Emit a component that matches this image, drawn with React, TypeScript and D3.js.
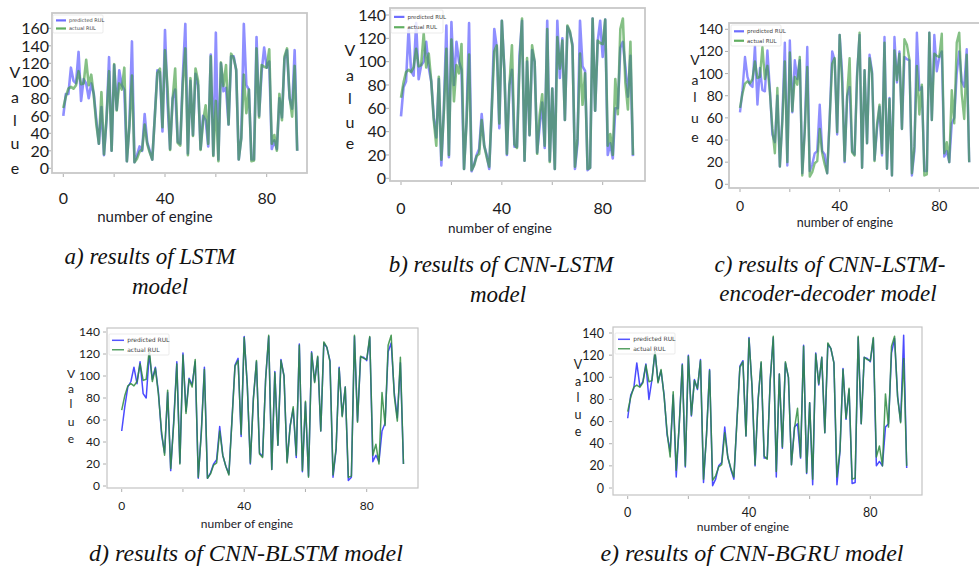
import React from 'react';
import * as d3 from 'd3';

// actual RUL per test engine (shared by all five panels)
const actualRUL = [
  69, 82, 91, 93, 91, 95, 111, 96, 97, 124,
  95, 107, 83, 50, 28, 87, 16, 57, 111, 20,
  119, 66, 97, 90, 115, 8, 48, 106, 7, 11,
  19, 21, 50, 28, 18, 10, 59, 109, 114, 47,
  135, 92, 21, 79, 114, 29, 26, 97, 137, 15,
  103, 37, 114, 100, 21, 54, 72, 28, 128, 14,
  77, 8, 121, 94, 118, 50, 131, 126, 113, 10,
  34, 107, 63, 90, 8, 9, 137, 58, 118, 116,
  115, 136, 28, 38, 20, 85, 55, 128, 137, 82,
  59, 117, 20,
];

const predLSTM = [
  60, 85, 85, 115, 100, 97, 133, 77, 102, 97,
  80, 97, 85, 55, 28, 70, 15, 55, 127, 20,
  118, 67, 112, 95, 90, 8, 50, 145, 7, 15,
  25, 20, 62, 30, 20, 10, 60, 112, 110, 42,
  158, 75, 22, 80, 90, 30, 28, 105, 165, 17,
  100, 38, 108, 95, 22, 60, 55, 25, 130, 15,
  155, 10, 120, 88, 92, 50, 128, 128, 112, 10,
  35, 165, 95, 90, 10, 10, 150, 60, 110, 138,
  115, 122, 22, 32, 22, 80, 58, 125, 135, 80,
  68, 135, 20,
];

const predCNNLSTM = [
  53, 78, 83, 128, 92, 88, 133, 85, 97, 100,
  117, 95, 83, 52, 35, 85, 11, 60, 131, 18,
  134, 80, 117, 100, 93, 8, 50, 133, 6, 12,
  20, 25, 55, 28, 20, 8, 60, 128, 112, 43,
  135, 93, 20, 80, 93, 27, 27, 105, 135, 15,
  100, 37, 110, 100, 22, 45, 65, 26, 135, 15,
  77, 8, 135, 86, 120, 50, 130, 125, 115, 8,
  30, 135, 96, 92, 7, 9, 137, 58, 117, 135,
  104, 136, 20, 30, 17, 60, 60, 112, 117, 95,
  70, 105, 19,
];

const predEncDec = [
  65, 85, 115, 97, 90, 88, 125, 72, 105, 85,
  84, 121, 85, 45, 38, 80, 16, 60, 128, 17,
  130, 65, 112, 95, 112, 10, 50, 124, 12, 18,
  28, 30, 72, 30, 27, 10, 60, 120, 112, 45,
  135, 100, 20, 80, 88, 30, 27, 100, 135, 15,
  103, 37, 117, 102, 22, 50, 70, 26, 133, 14,
  78, 8, 133, 92, 120, 50, 115, 113, 112, 8,
  30, 137, 85, 88, 12, 12, 137, 58, 135, 102,
  115, 120, 25, 30, 20, 55, 60, 100, 120, 93,
  88, 122, 20,
];

const predBLSTM = [
  50, 72, 90, 95, 108, 93, 113, 84, 80, 120,
  97, 108, 85, 47, 30, 85, 14, 60, 113, 21,
  121, 68, 98, 92, 113, 7, 50, 108, 7, 12,
  20, 24, 54, 28, 18, 11, 60, 110, 116, 45,
  136, 92, 20, 80, 113, 30, 27, 98, 136, 15,
  104, 37, 115, 100, 22, 55, 70, 26, 129, 13,
  76, 9, 122, 95, 117, 50, 130, 126, 114, 8,
  33, 108, 64, 90, 5, 8, 136, 59, 117, 117,
  114, 135, 22, 28, 22, 50, 57, 122, 130, 85,
  62, 112, 20,
];

const predBGRU = [
  63, 84, 90, 113, 92, 96, 112, 80, 98, 123,
  96, 106, 84, 48, 33, 84, 10, 58, 112, 19,
  120, 65, 98, 89, 116, 5, 49, 107, 2, 8,
  20, 23, 55, 28, 17, 8, 60, 110, 115, 47,
  136, 91, 20, 80, 113, 27, 27, 98, 136, 10,
  103, 36, 113, 100, 21, 55, 58, 27, 129, 13,
  77, 3, 122, 93, 118, 50, 130, 126, 113, 3,
  33, 108, 62, 89, 4, 5, 136, 58, 118, 117,
  114, 135, 20, 24, 20, 55, 58, 122, 135, 83,
  60, 138, 18,
];

const yTicks160 = [0, 20, 40, 60, 80, 100, 120, 140, 160];
const yTicks140 = [0, 20, 40, 60, 80, 100, 120, 140];
const xLabelTicks = [0, 40, 80];
const xMinorTicks = [0, 20, 40, 60, 80];
const yLetters = ['V', 'a', 'l', 'u', 'e'];
const legendNames = ['predicted RUL', 'actual RUL'];

const sans = "Lato, 'Open Sans', sans-serif";
const serif = "'Liberation Serif', 'Times New Roman', serif";

// layout of each panel (pixel geometry of the pasted screenshots)
const panels = [
  {
    key: 'a', pred: predLSTM, yTicks: yTicks160, yTop: 160,
    frame: [52, 13, 307, 173], xr: [63.3, 266.7], yr: [168.3, 28.3],
    fs: 16, labelRight: 49, letterX: 15, letterY: [72, 97, 120, 143, 168],
    xLabelY: 204, nameX: 155, nameY: 222, nameFs: 15,
    legend: [53, 15, 50, 18, 5], lw: 2.6, thin: false,
    captions: [['a) results of LSTM', 150, 264], ['model', 160, 294]], capFs: 23,
  },
  {
    key: 'b', pred: predCNNLSTM, yTicks: yTicks140, yTop: 140,
    frame: [390, 8, 645, 181], xr: [401, 602.7], yr: [178.3, 15],
    fs: 16, labelRight: 386, letterX: 350, letterY: [50, 75, 98, 122, 143],
    xLabelY: 214, nameX: 500, nameY: 233, nameFs: 13.5,
    legend: [391, 10, 52, 23, 5.5], lw: 2.6, thin: false,
    captions: [['b) results of CNN-LSTM', 501, 272], ['model', 498, 302]], capFs: 23,
  },
  {
    key: 'c', pred: predEncDec, yTicks: yTicks140, yTop: 140,
    frame: [729, 23, 990, 188], xr: [740, 939.3], yr: [184.3, 29.3],
    fs: 14, labelRight: 723, letterX: 695, letterY: [60, 80, 97, 118, 137],
    xLabelY: 211, nameX: 845, nameY: 227, nameFs: 12.5,
    legend: [731, 25, 50, 21, 5.5], lw: 2.4, thin: false,
    captions: [['c) results of CNN-LSTM-', 830, 272], ['encoder-decoder model', 828, 301]], capFs: 23,
  },
  {
    key: 'd', pred: predBLSTM, yTicks: yTicks140, yTop: 140,
    frame: [107, 328, 418, 488], xr: [121.7, 366.7], yr: [486, 332],
    fs: 12, labelRight: 100, letterX: 71, letterY: [374, 389, 404, 422, 439],
    xLabelY: 510, nameX: 247, nameY: 528, nameFs: 12,
    legend: [109, 334, 60, 21, 6], lw: 1.5, thin: true,
    captions: [['d) results of CNN-BLSTM model', 246, 561]], capFs: 24,
  },
  {
    key: 'e', pred: predBGRU, yTicks: yTicks140, yTop: 140,
    frame: [613, 327, 922, 495], xr: [627.7, 870.3], yr: [488, 333],
    fs: 12.5, labelRight: 604, letterX: 578, letterY: [364, 381, 397, 414, 431],
    xLabelY: 517, nameX: 743, nameY: 531, nameFs: 12,
    legend: [615, 333, 60, 21, 6], lw: 1.5, thin: true,
    captions: [['e) results of CNN-BGRU model', 752, 561]], capFs: 24,
  },
];

const Panel = ({ p }) => {
  const x = d3.scaleLinear().domain([0, 80]).range(p.xr);
  const y = d3.scaleLinear().domain([0, p.yTop]).range(p.yr);
  const line = d3.line<number>().x((d, i) => x(i)).y(d => y(d));
  const [fx0, fy0, fx1, fy1] = p.frame;
  const [lx, ly, lwid, lh, lfs] = p.legend;
  const blue = p.thin ? '#2b2bff' : '#4a4aff';
  const green = p.thin ? '#2e8b3e' : '#3a9a3a';
  const op = p.thin ? 0.85 : 0.62;

  return (
    <g>
      <defs>
        <clipPath id={'clip-' + p.key}>
          <rect x={fx0} y={fy0} width={fx1 - fx0} height={fy1 - fy0} />
        </clipPath>
      </defs>
      <rect x={fx0} y={fy0} width={fx1 - fx0} height={fy1 - fy0}
        fill="#fff" stroke={p.thin ? '#c4c4c4' : '#c8c8c8'} strokeWidth={p.thin ? 1.2 : 1.8} />

      {/* tiny matplotlib ticks */}
      {xMinorTicks.map(t => (
        <line key={'xt' + t} x1={x(t)} x2={x(t)} y1={fy1 + 1} y2={fy1 + 4} stroke="#999" strokeWidth={0.8} />
      ))}
      {p.yTicks.map(t => (
        <line key={'yt' + t} x1={fx0 - 4} x2={fx0 - 1} y1={y(t)} y2={y(t)} stroke="#999" strokeWidth={0.8} />
      ))}

      <g clipPath={`url(#clip-${p.key})`}>
        <path d={line(p.pred) || ''} fill="none" stroke={blue} strokeWidth={p.lw}
          strokeOpacity={op} strokeLinejoin="round" />
        <path d={line(actualRUL) || ''} fill="none" stroke={green} strokeWidth={p.lw}
          strokeOpacity={op} strokeLinejoin="round" />
      </g>

      {/* legend */}
      <rect x={lx} y={ly} width={lwid} height={lh} fill="#fff" fillOpacity={0.8} stroke="#ddd" strokeWidth={0.6} rx={1} />
      {legendNames.map((name, i) => {
        const yy = ly + lh * (0.3 + i * 0.45);
        return (
          <g key={name}>
            <line x1={lx + 3} x2={lx + 3 + lwid * 0.2} y1={yy} y2={yy}
              stroke={i === 0 ? blue : green} strokeWidth={p.thin ? 1.5 : 2.2} strokeOpacity={0.8} />
            <text x={lx + 5 + lwid * 0.22} y={yy + lfs * 0.35} fontSize={lfs}
              style={{ fontFamily: "'DejaVu Sans', sans-serif" }} fill="#444">{name}</text>
          </g>
        );
      })}

      {/* big pasted tick labels */}
      {p.yTicks.map(t => (
        <text key={'yl' + t} x={p.labelRight} y={y(t)} dy="0.36em" textAnchor="end"
          fontSize={p.fs} style={{ fontFamily: sans }} fill="#1c1c1c">{t}</text>
      ))}
      {yLetters.map((c, i) => (
        <text key={'v' + i} x={p.letterX} y={p.letterY[i]} dy="0.36em" textAnchor="middle"
          fontSize={p.fs} style={{ fontFamily: sans }} fill="#1c1c1c">{c}</text>
      ))}
      {xLabelTicks.map(t => (
        <text key={'xl' + t} x={x(t)} y={p.xLabelY} textAnchor="middle"
          fontSize={p.fs} style={{ fontFamily: sans }} fill="#1c1c1c">{t}</text>
      ))}
      <text x={p.nameX} y={p.nameY} textAnchor="middle" fontSize={p.nameFs}
        style={{ fontFamily: sans }} fill="#1c1c2a">number of engine</text>

      {p.captions.map(([txt, cx, cy]) => (
        <text key={txt} x={cx} y={cy} textAnchor="middle" fontSize={p.capFs}
          style={{ fontFamily: serif, fontStyle: 'italic' }} fill="#111">{txt}</text>
      ))}
    </g>
  );
};

const App = () => (
  <div style={{ position: 'absolute', left: 0, top: 0 }}>
    <svg width={979} height={577} style={{ display: 'block', background: '#fff' }}>
      {panels.map(p => <Panel key={p.key} p={p} />)}
    </svg>
  </div>
);

export default App;
